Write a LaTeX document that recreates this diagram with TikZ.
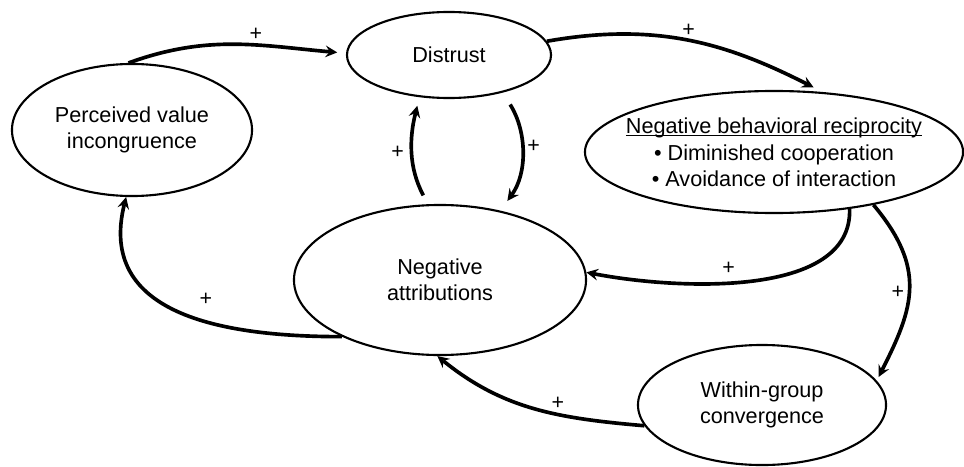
\documentclass[tikz,border=0pt]{standalone}
\usepackage{fontspec}
\setmainfont{Liberation Sans}
\usetikzlibrary{shapes.geometric}
\newcommand{\ulbase}[1]{\underline{\smash{#1}}\vphantom{#1}}

\begin{document}
\begin{tikzpicture}[>=stealth, x=0.025cm, y=-0.025cm]
        \tikzstyle{factor}=[draw, ellipse, line width=1.5pt, inner sep=0pt, align=center, font=\fontsize{15.4}{18.2}\selectfont]
        \tikzstyle{link}=[->, line width=2.6pt]
        \tikzstyle{sign}=[font=\fontsize{15.2}{18}\selectfont, inner sep=2pt]
        \useasboundingbox (0,0) rectangle (964,466);
        \node[factor, minimum width=6cm, minimum height=3.3cm] (per) at (132,130) {Perceived value\\incongruence};
        \node[factor, minimum width=5.1cm, minimum height=2.15cm] (dis) at (449,55) {Distrust};
        \node[factor, minimum width=9.45cm, minimum height=3.05cm, inner xsep=-0.4cm] (nbr) at (774,152)
            {\ulbase{Negative behavioral reciprocity}\\[1.5pt] • Diminished cooperation\\ • Avoidance of interaction};
        \node[factor, minimum width=7.3cm, minimum height=3.75cm] (na) at (440,280) {Negative\\attributions};
        \node[factor, minimum width=6.2cm, minimum height=3cm] (wgc) at (762,405) {Within-group\\convergence};
        \draw[link, shorten >=0.22cm] (per.93) to[out=20, in=175] node[sign, pos=0.6, above] {+} (dis.179);
        \draw[link, shorten >=0.25cm] (dis.8) to[out=10, in=153] node[sign, pos=0.5, above] {+} (nbr.51);
        \draw[link, shorten <=0.25cm, shorten >=0.22cm] (na.99) to[out=118, in=-104] node[sign, midway, left, xshift=-0.1cm] {+} (dis.235);
        \draw[link, shorten <=0.35cm, shorten >=0.3cm] (dis.-35) to[out=-58, in=54] node[sign, pos=0.45, right, xshift=0.05cm] {+} (na.49);
        \draw[link] (nbr.-37) to[out=-88, in=-11, looseness=0.85] node[sign, pos=0.57, above, yshift=0.1cm] {+} (na.3);
        \draw[link, shorten >=0.1cm] (nbr.-28) to[out=-50, in=63, looseness=1.2] node[sign, pos=0.52, left] {+} (wgc.12);
        \draw[link] (wgc.190) to[out=175, in=-39] node[sign, pos=0.38, above] {+} (na.268);
        \draw[link] (na.210) to[out=180, in=-104, looseness=1.2] node[sign, pos=0.45, above right, xshift=0.1cm, yshift=0.15cm] {+} (per.-95);
    \end{tikzpicture}
\end{document}
